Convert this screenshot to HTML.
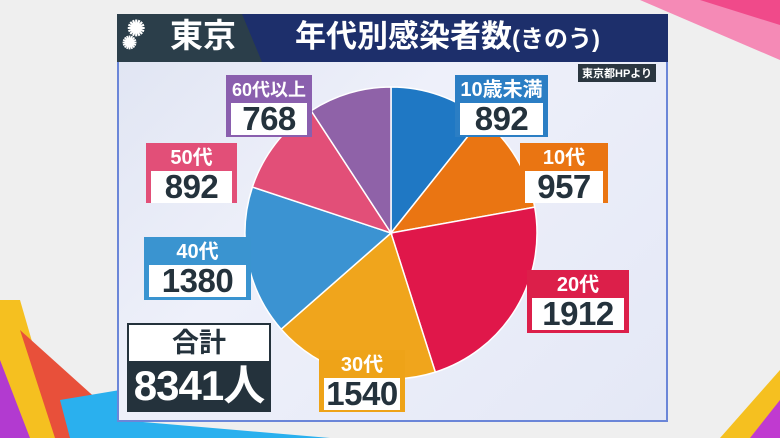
<!DOCTYPE html><html><head><meta charset="utf-8"><style>
html,body{margin:0;width:780px;height:438px;overflow:hidden}
body{background:#efefef;font-family:"Liberation Sans","Noto Sans CJK JP",sans-serif;position:relative}
.panel{position:absolute;left:117px;top:14px;width:551px;height:408px;background:linear-gradient(135deg,#dfe4f2,#eef0fa 40%,#e4e8f6);border:2px solid #6b86d8;box-sizing:border-box}
.hdr{position:absolute;left:117px;top:14px;width:551px;height:48px;background:#1d2f6b}
.hl{position:absolute;left:117px;top:14px;width:145px;height:48px;background:#2b3e4a;clip-path:polygon(0 0,125px 0,145px 48px,0 48px)}
.t{position:absolute;color:#fff;font-weight:bold;white-space:nowrap}
.box{position:absolute;border:2px solid;box-sizing:border-box;text-align:center;font-weight:bold;white-space:nowrap}
.box .a{color:#fff;font-size:20px;line-height:26px}
.box .b{background:#fff;color:#24323c;font-size:33px;line-height:32px;margin:0 3px 3px;letter-spacing:-0.5px}
</style></head><body>
<svg width="780" height="438" style="position:absolute;left:0;top:0">
<polygon points="0,300 20,300 60,438 0,438" fill="#f5c020"/>
<polygon points="0,360 30,438 0,438" fill="#b23ad0"/>
<polygon points="20,330 120,420 120,438 55,438" fill="#e8503a"/>
<polygon points="60,400 120,390 120,438 70,438" fill="#2ab0ee"/>
<polygon points="120,420 330,438 120,438" fill="#2ab0ee"/>
<polygon points="640,0 780,0 780,60" fill="#f58ab6"/>
<polygon points="700,0 780,0 780,25" fill="#f04a8a"/>
<polygon points="780,370 780,438 720,438" fill="#f5c020"/>
<polygon points="780,400 780,438 750,438" fill="#c03ad0"/>
</svg>
<div class="panel"></div>
<div class="hdr"></div><div class="hl"></div>
<div class="t" style="left:127px;top:16px;font-size:22px">✺</div>
<div class="t" style="left:122px;top:33px;font-size:18px">✺</div>
<div class="t" style="left:170px;top:16px;font-size:33px;line-height:40px">東京</div>
<div class="t" style="left:295px;top:17px;font-size:31px;line-height:40px">年代別感染者数<span style="font-size:24px">(きのう)</span></div>
<div class="t" style="left:578px;top:64px;font-size:11px;background:#2b3640;padding:1px 4px">東京都HPより</div>
<svg width="780" height="438" style="position:absolute;left:0;top:0"><g id="pie" stroke="#fff" stroke-width="1.5"></g></svg>
<div class="box" style="left:226px;top:75px;width:86px;height:62px;border-color:#8a5fae;background:#8a5fae"><div class="a" style="font-size:18px">60代以上</div><div class="b">768</div></div>
<div class="box" style="left:455px;top:75px;width:93px;height:62px;border-color:#2b7ec4;background:#2b7ec4"><div class="a">10歳未満</div><div class="b">892</div></div>
<div class="box" style="left:146px;top:143px;width:91px;height:60px;border-color:#e24f78;background:#e24f78"><div class="a">50代</div><div class="b">892</div></div>
<div class="box" style="left:520px;top:143px;width:88px;height:60px;border-color:#ea7512;background:#ea7512"><div class="a">10代</div><div class="b">957</div></div>
<div class="box" style="left:144px;top:237px;width:107px;height:63px;border-color:#3a94d0;background:#3a94d0"><div class="a">40代</div><div class="b">1380</div></div>
<div class="box" style="left:527px;top:270px;width:102px;height:63px;border-color:#dc1f4a;background:#dc1f4a"><div class="a">20代</div><div class="b">1912</div></div>
<div class="box" style="left:319px;top:350px;width:86px;height:62px;border-color:#eea318;background:#eea318"><div class="a">30代</div><div class="b">1540</div></div>
<div class="box" style="left:127px;top:323px;width:144px;height:89px;border-color:#24323c;background:#24323c"><div style="background:#fff;color:#24323c;font-size:27px;line-height:36px">合計</div><div style="color:#fff;font-size:42px;line-height:50px;letter-spacing:-1px">8341人</div></div>
<script>
var d=[[892,'#1f78c4'],[957,'#ea7512'],[1912,'#e0174a'],[1540,'#f0a51c'],[1380,'#3b93d2'],[892,'#e24f78'],[768,'#8f62a8']];
var cx=391,cy=233,r=146,t=8341,a=-Math.PI/2,s='';
d.forEach(function(e){var b=a+e[0]/t*2*Math.PI;var x1=cx+r*Math.cos(a),y1=cy+r*Math.sin(a),x2=cx+r*Math.cos(b),y2=cy+r*Math.sin(b);
s+='<path fill="'+e[1]+'" d="M'+cx+','+cy+'L'+x1+','+y1+'A'+r+','+r+' 0 '+((b-a)>Math.PI?1:0)+' 1 '+x2+','+y2+'Z"/>';a=b;});
document.getElementById('pie').innerHTML=s;
</script>
</body></html>
